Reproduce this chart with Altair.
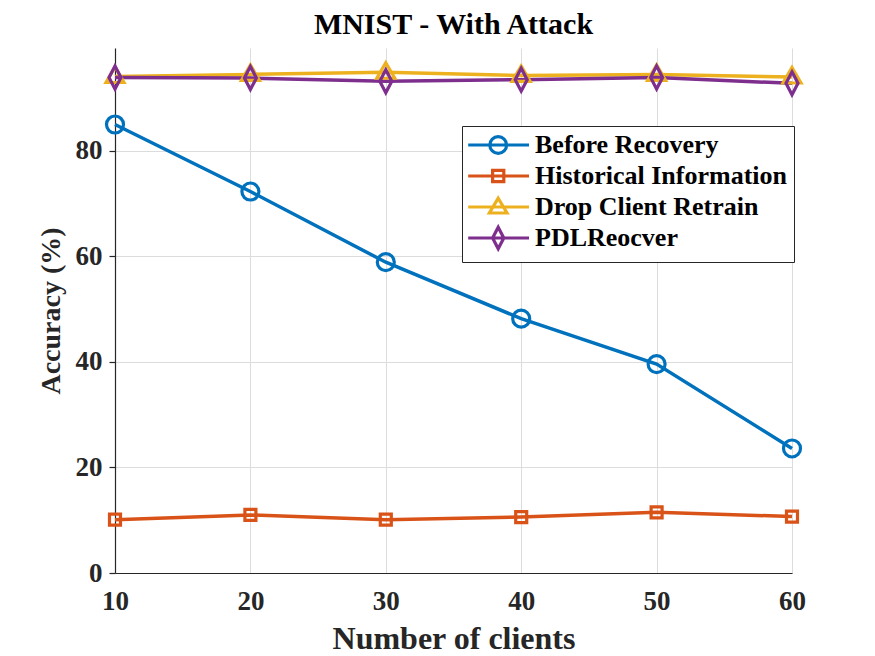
import altair as alt
import pandas as pd

clients = [10, 20, 30, 40, 50, 60]
series_names = ["Before Recovery", "Historical Information", "Drop Client Retrain", "PDLReocver"]
before_recovery = [85.0, 72.3, 58.9, 48.2, 39.6, 23.6]
historical_info = [10.1, 11.0, 10.1, 10.6, 11.5, 10.7]
drop_client = [94.1, 94.5, 94.9, 94.3, 94.5, 94.0]
pdl_recover = [93.9, 93.8, 93.2, 93.5, 93.9, 92.8]
colors = ["#0072BD", "#D95319", "#EDB120", "#7E2F8E"]
y_ticks = [0, 20, 40, 60, 80]

rows = []
for name, vals in zip(series_names, [before_recovery, historical_info, drop_client, pdl_recover]):
    for c, v in zip(clients, vals):
        rows.append({"clients": c, "acc": v, "series": name})
df = pd.DataFrame(rows)

# marker paths for the plot (unit = sqrt(size)/2 px)
marker_paths = [
    "M0.85,0 A0.85,0.85 0 1,1 -0.85,0 A0.85,0.85 0 1,1 0.85,0 Z",
    "M-0.55,-0.55 L0.55,-0.55 L0.55,0.55 L-0.55,0.55 Z",
    "M0,-0.95 L0.9,0.6 L-0.9,0.6 Z",
    "M0,-1.15 L0.6,0 L0,1.15 L-0.6,0 Z",
]
# legend symbols: line + marker (unit = 8px); equal bounds for every entry
ln = "M-1.6,-1.45 M-1.6,1.45 M-1.6,0 L6.0,0 "
legend_paths = [
    ln + "M3.2,0 A1.05,1.05 0 1,1 1.1,0 A1.05,1.05 0 1,1 3.2,0 Z",
    ln + "M1.45,-0.7 L2.85,-0.7 L2.85,0.7 L1.45,0.7 Z",
    ln + "M2.15,-1.1 L3.25,0.75 L1.05,0.75 Z",
    ln + "M2.15,-1.35 L2.85,0 L2.15,1.35 L1.45,0 Z",
]

color_scale = alt.Scale(domain=series_names, range=colors)
x_enc = alt.X("clients:Q", scale=alt.Scale(domain=[10, 60], nice=False),
              axis=alt.Axis(values=clients, title="Number of clients", format="d",
                            labelPadding=15, titlePadding=9, tickSize=0, labelFlush=False))
y_enc = alt.Y("acc:Q", scale=alt.Scale(domain=[0, 99.5], nice=False),
              axis=alt.Axis(values=y_ticks, title="Accuracy (%)", tickSize=6,
                            labelPadding=7, titlePadding=10))

lines = alt.Chart(df).mark_line(strokeWidth=3.5).encode(
    x=x_enc, y=y_enc,
    color=alt.Color("series:N", scale=color_scale, legend=None),
    detail="series:N",
)

points = alt.Chart(df).mark_point(filled=False, strokeWidth=3.2, size=400, opacity=1).encode(
    x="clients:Q", y="acc:Q",
    color=alt.Color("series:N", scale=color_scale, legend=None),
    shape=alt.Shape("series:N", scale=alt.Scale(domain=series_names, range=marker_paths), legend=None),
)

leg_props = dict(title=None, orient="none", legendX=347, legendY=78,
                 symbolSize=256, symbolStrokeWidth=3.2,
                 labelOffset=41, labelFontSize=26, labelFont="Liberation Serif",
                 labelFontWeight="bold", labelColor="#000000",
                 rowPadding=-5, padding=6, strokeColor="#262626",
                 fillColor="white", labelLimit=400)

legend_layer = alt.Chart(df).transform_filter("false").mark_point(filled=False, strokeWidth=3.2, opacity=1).encode(
    x="clients:Q", y="acc:Q",
    color=alt.Color("series:N", scale=color_scale, legend=alt.Legend(**leg_props)),
    shape=alt.Shape("series:N", scale=alt.Scale(domain=series_names, range=legend_paths),
                    legend=alt.Legend(**leg_props)),
)

chart = alt.layer(lines, points, legend_layer).resolve_scale(
    shape="independent", color="independent"
).properties(
    width=677, height=525,
    padding={"left": 107, "top": 40, "right": 75, "bottom": 83},
    autosize=alt.AutoSizeParams(type="none"),
    title=alt.Title("MNIST - With Attack", fontSize=30, font="Liberation Serif",
                    fontWeight="bold", color="#000000", offset=8),
).configure_view(stroke=None).configure_axis(
    labelFont="Liberation Serif", labelFontSize=27, labelFontWeight="bold", labelColor="#262626",
    titleFont="Liberation Serif", titleFontWeight="bold", titleColor="#262626",
    domainColor="#262626", domainWidth=1.2, tickColor="#262626", tickWidth=1.2,
    gridColor="#dcdcdc", gridWidth=1,
).configure_axisX(titleFontSize=32).configure_axisY(titleFontSize=28)

chart.save("out.html", embed_options={"renderer": "svg", "actions": False})
